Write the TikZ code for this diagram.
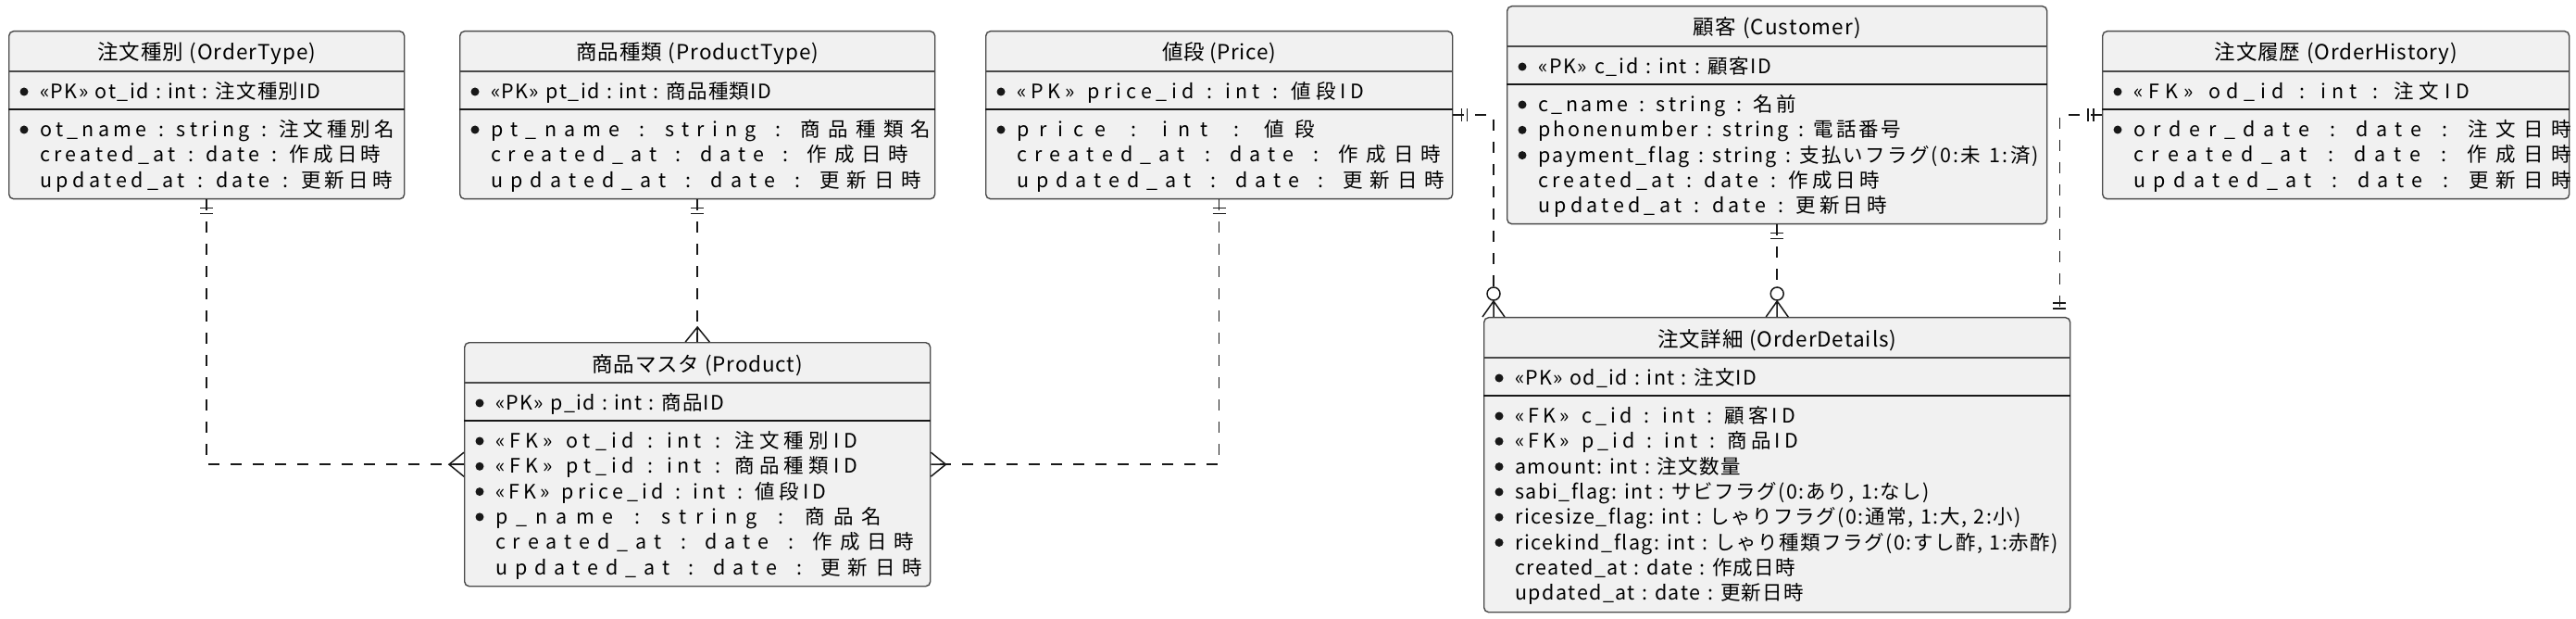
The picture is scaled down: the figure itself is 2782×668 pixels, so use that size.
\documentclass[tikz,border=0pt]{standalone}
\usepackage{fontspec}
\usepackage{graphicx}
\setmainfont{Noto Sans CJK JP}
\usetikzlibrary{positioning,calc}

\definecolor{boxfill}{HTML}{F1F1F1}
\definecolor{boxline}{HTML}{4A4A4A}
\definecolor{relline}{HTML}{181818}

% set a row to a fixed width (tracking or squeeze)
\def\endspread{endspread}
\def\spreadloop#1{\ifx#1\endspread\else#1\hfil\expandafter\spreadloop\fi}
\newcommand\fitrow[2]{%
  \setbox0=\hbox{#2}%
  \ifdim\wd0>#1\relax
    \resizebox{#1}{\height}{#2}%
  \else
    \hbox to #1{\spreadloop#2\endspread\unskip}%
  \fi}

\newcommand\titlerow[3]{%
  \node[titletext] (#1-title) at ($(#1.north)+(0,32)$) {\fitrow{#2pt}{#3}};
  \draw[titlesep] ($(#1.north west)+(0,44)$) -- ($(#1.north east)+(0,44)$);
}
\newcommand\keyrow[3]{%
  \node[bullet] (#1-kb) at ($(#1.north west)+(17,66)$) {};
  \node[rowtext] (#1-key) at ($(#1.north west)+(34,73.5)$) {\fitrow{#2pt}{#3}};
  \draw[keysep] ($(#1.north west)+(0,85)$) -- ($(#1.north east)+(0,85)$);
}
\newcommand\attr[5]{%
  \ifnum#3=1
    \node[bullet] (#1-b#2) at ($(#1.north west)+(17,{107+27.3*#2})$) {};
  \fi
  \node[rowtext] (#1-r#2) at ($(#1.north west)+(34,{114.5+27.3*#2})$) {\fitrow{#4pt}{#5}};
}

\begin{document}
\begin{tikzpicture}
[x=1pt,y=-1pt,
 entity/.style={draw=boxline,fill=boxfill,rounded corners=5pt,line width=1.4pt,inner sep=0pt,anchor=north west},
 titlesep/.style={draw=boxline,line width=1.1pt},
 keysep/.style={draw=relline,line width=2.3pt},
 titletext/.style={anchor=base,inner sep=0pt,font=\fontsize{22.5}{27}\selectfont},
 rowtext/.style={anchor=base west,inner sep=0pt,font=\fontsize{21.5}{26}\selectfont},
 bullet/.style={circle,fill=relline,inner sep=0pt,minimum size=9pt},
 relation/.style={draw=relline,line width=1.5pt,dash pattern=on 12pt off 12pt},
 onemark/.pic={\draw[relline,line width=1.5pt] (-7,9) -- (7,9) (-7,15) -- (7,15);},
 manymark/.pic={\draw[relline,line width=1.5pt] (-13,0) -- (0,16) -- (13,0) (0,16) -- (0,0);},
 zeromanymark/.pic={\draw[relline,line width=1.5pt] (-12,0) -- (0,17) -- (12,0) (0,17) -- (0,0);
   \draw[relline,line width=1.5pt] (0,25) circle[radius=7];}]
  \useasboundingbox (0,0) rectangle (2782,668);

  \node[entity,minimum width=427pt,minimum height=181pt] (ordertype) at (9,33) {};
  \titlerow{ordertype}{236}{注文種別~(OrderType)}
  \keyrow{ordertype}{303}{«PK»~ot\_id~:~int~:~注文種別ID}
  \attr{ordertype}{0}{1}{383}{ot\_name~:~string~:~注文種別名}
  \attr{ordertype}{1}{0}{368}{created\_at~:~date~:~作成日時}
  \attr{ordertype}{2}{0}{381}{updated\_at~:~date~:~更新日時}

  \node[entity,minimum width=513pt,minimum height=181pt] (producttype) at (496,33) {};
  \titlerow{producttype}{262}{商品種類~(ProductType)}
  \keyrow{producttype}{303}{«PK»~pt\_id~:~int~:~商品種類ID}
  \attr{producttype}{0}{1}{475}{pt\_name~:~string~:~商品種類名}
  \attr{producttype}{1}{0}{451}{created\_at~:~date~:~作成日時}
  \attr{producttype}{2}{0}{465}{updated\_at~:~date~:~更新日時}

  \node[entity,minimum width=504pt,minimum height=181pt] (price) at (1064,33) {};
  \titlerow{price}{123}{値段~(Price)}
  \keyrow{price}{375}{«PK»~price\_id~:~int~:~値段ID}
  \attr{price}{0}{1}{322}{price~:~int~:~値段}
  \attr{price}{1}{0}{458}{created\_at~:~date~:~作成日時}
  \attr{price}{2}{0}{462}{updated\_at~:~date~:~更新日時}

  \node[entity,minimum width=583pt,minimum height=235pt] (customer) at (1627,6) {};
  \titlerow{customer}{181}{顧客~(Customer)}
  \keyrow{customer}{252}{«PK»~c\_id~:~int~:~顧客ID}
  \attr{customer}{0}{1}{279}{c\_name~:~string~:~名前}
  \attr{customer}{1}{1}{392}{phonenumber~:~string~:~電話番号}
  \attr{customer}{2}{1}{541}{payment\_flag~:~string~:~支払いフラグ(0:未~1:済)}
  \attr{customer}{3}{0}{369}{created\_at~:~date~:~作成日時}
  \attr{customer}{4}{0}{377}{updated\_at~:~date~:~更新日時}

  \node[entity,minimum width=504pt,minimum height=181pt] (orderhistory) at (2270,33) {};
  \titlerow{orderhistory}{262}{注文履歴~(OrderHistory)}
  \keyrow{orderhistory}{363}{«FK»~od\_id~:~int~:~注文ID}
  \attr{orderhistory}{0}{1}{473}{order\_date~:~date~:~注文日時}
  \attr{orderhistory}{1}{0}{473}{created\_at~:~date~:~作成日時}
  \attr{orderhistory}{2}{0}{473}{updated\_at~:~date~:~更新日時}

  \node[entity,minimum width=503pt,minimum height=263pt] (product) at (501,369) {};
  \titlerow{product}{227}{商品マスタ~(Product)}
  \keyrow{product}{247}{«PK»~p\_id~:~int~:~商品ID}
  \attr{product}{0}{1}{391}{«FK»~ot\_id~:~int~:~注文種別ID}
  \attr{product}{1}{1}{391}{«FK»~pt\_id~:~int~:~商品種類ID}
  \attr{product}{2}{1}{357}{«FK»~price\_id~:~int~:~値段ID}
  \attr{product}{3}{1}{417}{p\_name~:~string~:~商品名}
  \attr{product}{4}{0}{452}{created\_at~:~date~:~作成日時}
  \attr{product}{5}{0}{461}{updated\_at~:~date~:~更新日時}

  \node[entity,minimum width=633pt,minimum height=318pt] (orderdetails) at (1602,342) {};
  \titlerow{orderdetails}{258}{注文詳細~(OrderDetails)}
  \keyrow{orderdetails}{261}{«PK»~od\_id~:~int~:~注文ID}
  \attr{orderdetails}{0}{1}{303}{«FK»~c\_id~:~int~:~顧客ID}
  \attr{orderdetails}{1}{1}{306}{«FK»~p\_id~:~int~:~商品ID}
  \attr{orderdetails}{2}{1}{244}{amount:~int~:~注文数量}
  \attr{orderdetails}{3}{1}{448}{sabi\_flag:~int~:~サビフラグ(0:あり,~1:なし)}
  \attr{orderdetails}{4}{1}{547}{ricesize\_flag:~int~:~しゃりフラグ(0:通常,~1:大,~2:小)}
  \attr{orderdetails}{5}{1}{587}{ricekind\_flag:~int~:~しゃり種類フラグ(0:すし酢,~1:赤酢)}
  \attr{orderdetails}{6}{0}{303}{created\_at~:~date~:~作成日時}
  \attr{orderdetails}{7}{0}{312}{updated\_at~:~date~:~更新日時}

  % relations
  \coordinate (pricefoot) at ($(orderdetails.north west)+(11,0)$);
  \coordinate (historyfoot) at ($(orderdetails.north east)+(-12,0)$);

  \draw[relation] (ordertype.south) |- (product.west);
  \draw[relation] (producttype.south) -- (product.north);
  \draw[relation] (price.south) |- (product.east);
  \draw[relation,shorten >=32pt] (price.east) -| (pricefoot);
  \draw[relation,shorten >=32pt] (customer.south) -- (customer.south |- orderdetails.north);
  \draw[relation] (orderhistory.west) -| (historyfoot);

  \pic at (ordertype.south) {onemark};
  \pic[rotate=-90] at (product.west) {manymark};
  \pic at (producttype.south) {onemark};
  \pic[rotate=180] at (product.north) {manymark};
  \pic at (price.south) {onemark};
  \pic[rotate=90] at (product.east) {manymark};
  \pic[rotate=90] at (price.east) {onemark};
  \pic[rotate=180] at (pricefoot) {zeromanymark};
  \pic at (customer.south) {onemark};
  \pic[rotate=180] at (customer.south |- orderdetails.north) {zeromanymark};
  \pic[rotate=-90] at (orderhistory.west) {onemark};
  \pic[rotate=180] at (historyfoot) {onemark};
\end{tikzpicture}
\end{document}
